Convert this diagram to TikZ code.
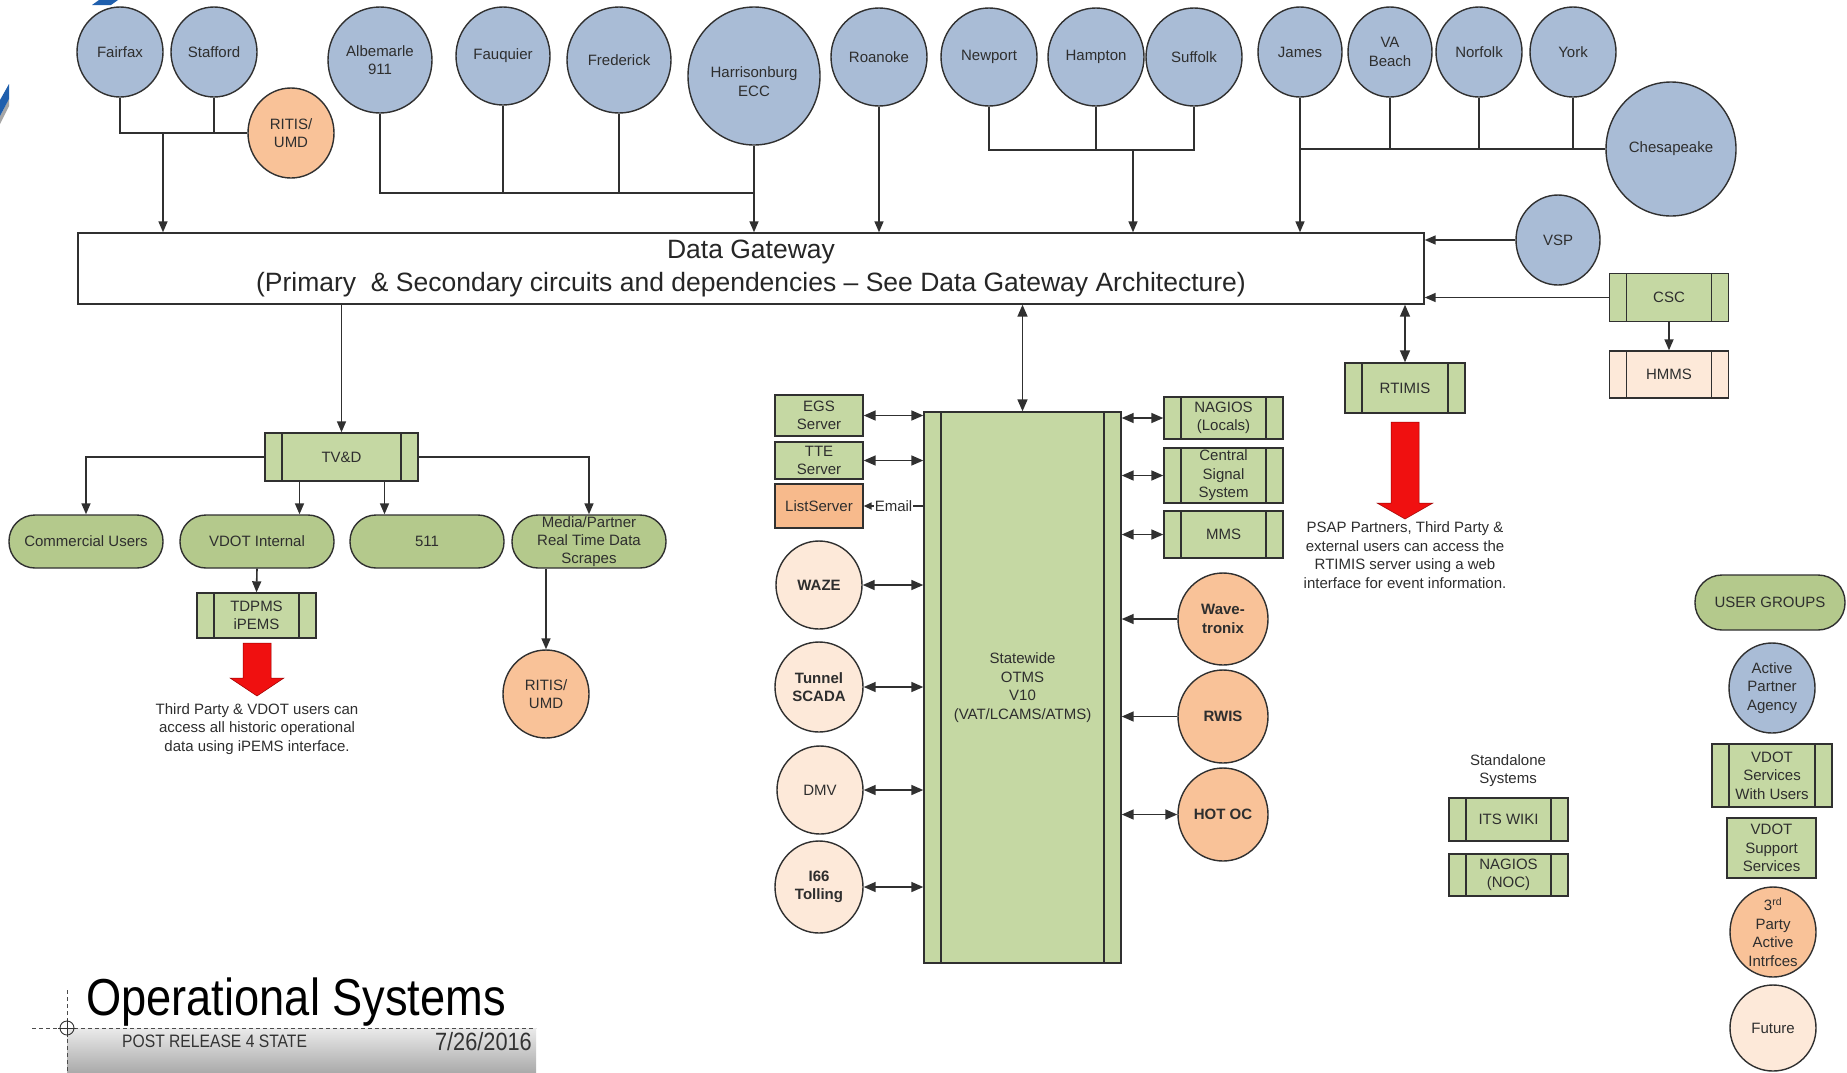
\documentclass[tikz,border=0pt]{standalone}
\usepackage{fontspec}
\setmainfont{Liberation Sans}
\newfontfamily\narrowfont[FakeStretch=0.87]{Liberation Sans}
\usetikzlibrary{shapes.geometric,arrows.meta}
\definecolor{linec}{HTML}{303030}
\definecolor{textc}{HTML}{2E2E2E}
\definecolor{bluef}{HTML}{A9BCD6}
\definecolor{orangef}{HTML}{F9C298}
\definecolor{peachf}{HTML}{FDE9D9}
\definecolor{boxg}{HTML}{C5D8A3}
\definecolor{pillg}{HTML}{B4C98C}
\definecolor{listf}{HTML}{F7BA8C}
\definecolor{redf}{HTML}{F01010}
\definecolor{tblue}{HTML}{1F5FAD}
\newcommand\myfs{\fontsize{15}{18.5}\selectfont}
\begin{document}
\begin{tikzpicture}[x=1pt,y=-1pt,
  base/.style={draw=linec, line width=1.4pt, text=textc, font=\myfs, align=center},
  bc/.style={base, ellipse, fill=bluef, inner sep=-6pt},
  oc/.style={base, ellipse, fill=orangef, inner sep=-6pt},
  pc/.style={base, ellipse, fill=peachf, inner sep=-6pt},
  plainbox/.style={base, rectangle, fill=boxg, inner sep=0pt},
  proc/.style={base, rectangle, fill=boxg, inner sep=0pt,
    path picture={
      \draw[linec, line width=1.4pt] ([xshift=17pt]path picture bounding box.north west) -- ([xshift=17pt]path picture bounding box.south west);
      \draw[linec, line width=1.4pt] ([xshift=-17pt]path picture bounding box.north east) -- ([xshift=-17pt]path picture bounding box.south east);}},
  pill/.style={base, rectangle, rounded corners=26pt, fill=pillg, inner sep=0pt},
  ln/.style={draw=linec, line width=1.6pt},
  arr/.style={ln, -{Triangle[length=11pt,width=9pt]}},
  dbl/.style={ln, {Triangle[length=12pt,width=10pt]}-{Triangle[length=12pt,width=10pt]}},
  big/.style={ln, -{Triangle[length=12pt,width=10pt]}},
  txt/.style={text=textc, font=\myfs, align=center, inner sep=0pt},
  redarrow/.style={fill=redf, draw=red!60!black, line width=0.5pt}
]
\useasboundingbox (0,0) rectangle (1847,1072);
\fill[white] (0,0) rectangle (1847,1072);

% template decoration
\fill[black!35] (0,116) -- (9,99) -- (9,106) -- (0,124) -- cycle;
\fill[tblue] (0,100) -- (9,84) -- (9,99) -- (0,116) -- cycle;
\fill[tblue] (92,5) -- (99,0) -- (118,0) -- (111,5) -- cycle;

% ---------- top agencies ----------
\node[bc, minimum width=86pt, minimum height=90pt] (fairfax) at (120,52) {Fairfax};
\node[bc, minimum width=86pt, minimum height=90pt] (stafford) at (214,52) {Stafford};
\node[oc, minimum width=86pt, minimum height=90pt] (ritisA) at (291,133) {RITIS/\\UMD};
\node[bc, minimum width=104pt, minimum height=106pt] (alb) at (380,60) {Albemarle\\911};
\node[bc, minimum width=94pt, minimum height=98pt] (fauq) at (503,56) {Fauquier};
\node[bc, minimum width=104pt, minimum height=106pt] (fred) at (619,60) {Frederick};
\node[bc, minimum width=132pt, minimum height=138pt] (harr) at (754,76) {\raisebox{-11pt}[0pt][0pt]{\begin{tabular}{@{}c@{}}Harrisonburg\\ECC\end{tabular}}};
\node[bc, minimum width=96pt, minimum height=98pt] (roan) at (879,57) {Roanoke};
\node[bc, minimum width=96pt, minimum height=98pt] (newp) at (989,57) {Newport};
\node[bc, minimum width=96pt, minimum height=98pt] (hamp) at (1096,57) {Hampton};
\node[bc, minimum width=96pt, minimum height=98pt] (suff) at (1194,57) {Suffolk};
\node[bc, minimum width=84pt, minimum height=90pt] (james) at (1300,52) {James};
\node[bc, minimum width=84pt, minimum height=90pt] (vab) at (1390,52) {VA\\Beach};
\node[bc, minimum width=86pt, minimum height=90pt] (norf) at (1479,52) {Norfolk};
\node[bc, minimum width=86pt, minimum height=90pt] (york) at (1573,52) {York};
\node[bc, minimum width=130pt, minimum height=134pt] (ches) at (1671,149) {Chesapeake};
\node[bc, minimum width=84pt, minimum height=90pt] (vsp) at (1558,240) {VSP};

% ---------- data gateway ----------
\node[draw=linec, line width=1.4pt, fill=white, minimum width=1346pt, minimum height=71pt, inner sep=0pt,
      align=center, text=black!85, font=\fontsize{26.5}{33}\selectfont] (gw) at (751,268.5)
  {Data Gateway\\(Primary\ \ \& Secondary circuits and dependencies – See Data Gateway Architecture)};

% connectors into gateway
\coordinate (j1) at (163,132);
\draw[ln] (fairfax.south) |- (ritisA.west);
\draw[ln] (stafford.south) -- (stafford.south |- ritisA.west);
\draw[arr] (j1) -- (j1 |- gw.north);

\coordinate (j2) at (754,193);
\draw[ln] (alb.south) |- (j2);
\draw[ln] (fauq.south) -- (fauq.south |- j2);
\draw[ln] (fred.south) -- (fred.south |- j2);
\draw[arr] (harr.south) -- (harr.south |- gw.north);

\draw[arr] (roan.south) -- (roan.south |- gw.north);

\coordinate (j3) at (1133,150);
\draw[ln] (newp.south) |- (j3) -| (suff.south);
\draw[ln] (hamp.south) -- (hamp.south |- j3);
\draw[arr] (j3) -- (j3 |- gw.north);

\draw[arr] (james.south) -- (james.south |- gw.north);
\draw[ln] (james.south |- ches.west) -- (ches.west);
\draw[ln] (vab.south) -- (vab.south |- ches.west);
\draw[ln] (norf.south) -- (norf.south |- ches.west);
\draw[ln] (york.south) -- (york.south |- ches.west);

\draw[arr] (vsp.west) -- (vsp.west -| gw.east);

% ---------- CSC / HMMS / RTIMIS ----------
\node[proc, minimum width=119pt, minimum height=48pt] (csc) at (1669,297.5) {CSC};
\node[proc, fill=peachf, minimum width=119pt, minimum height=47pt] (hmms) at (1669,374.5) {HMMS};
\draw[arr] (csc.west) -- (csc.west -| gw.east);
\draw[arr] (csc.south) -- (hmms.north);

\node[proc, minimum width=120pt, minimum height=50pt] (rtimis) at (1405,388) {RTIMIS};
\draw[dbl] (rtimis.north) -- (rtimis.north |- gw.south);
\fill[redarrow] (1391,422) -- (1419,422) -- (1419,503) -- (1433,503) -- (1405,519) -- (1377,503) -- (1391,503) -- cycle;
\node[txt] (psap) at (1405,555) {PSAP Partners, Third Party \&\\external users can access the\\RTIMIS server using a web\\interface for event information.};

% ---------- TV&D tree ----------
\node[proc, minimum width=153pt, minimum height=48pt] (tvd) at (341.5,457) {TV\&D};
\draw[arr] (tvd.north |- gw.south) -- (tvd.north);
\node[pill, minimum width=154pt, minimum height=53pt] (comm) at (86,541.5) {Commercial Users};
\node[pill, minimum width=154pt, minimum height=53pt] (vint) at (257,541.5) {VDOT Internal};
\node[pill, minimum width=154pt, minimum height=53pt] (p511) at (427,541.5) {511};
\node[pill, minimum width=154pt, minimum height=53pt, font=\fontsize{15}{18}\selectfont] (media) at (589,541.5) {Media/Partner\\Real Time Data\\Scrapes};
\draw[arr] (tvd.west) -| (comm.north);
\draw[arr] (tvd.east) -| (media.north);
\draw[arr] ([xshift=-42pt]tvd.south) -- ([xshift=-42pt]tvd.south |- vint.north);
\draw[arr] ([xshift=43pt]tvd.south) -- ([xshift=43pt]tvd.south |- p511.north);

\node[proc, minimum width=119pt, minimum height=45pt] (tdpms) at (256.5,615.5) {TDPMS\\iPEMS};
\draw[arr] (vint.south) -- (tdpms.north);
\fill[redarrow] (243,643) -- (271,643) -- (271,678) -- (284,678) -- (257,696) -- (230,678) -- (243,678) -- cycle;
\node[txt] (ipems) at (257,729) {Third Party \& VDOT users can\\access all historic operational\\data using iPEMS interface.};

\node[oc, minimum width=86pt, minimum height=88pt] (ritisB) at (546,694) {RITIS/\\UMD};
\draw[arr] (ritisB.north |- media.south) -- (ritisB.north);

% ---------- OTMS ----------
\node[proc, minimum width=197pt, minimum height=551pt] (otms) at (1022.5,687.5) {Statewide\\OTMS\\V10\\(VAT/LCAMS/ATMS)};
\draw[dbl] (otms.north) -- (otms.north |- gw.south);

\node[plainbox, minimum width=88pt, minimum height=41pt] (egs) at (819,415.5) {EGS\\Server};
\node[plainbox, minimum width=88pt, minimum height=37pt] (tte) at (819,460.5) {TTE\\Server};
\node[plainbox, fill=listf, minimum width=88pt, minimum height=44pt] (list) at (819,506) {ListServer};
\draw[dbl] (egs.east) -- (egs.east -| otms.west);
\draw[dbl] (tte.east) -- (tte.east -| otms.west);
\draw[ln, -{Triangle[length=8pt,width=7pt]}] (list.east -| otms.west) -- node[fill=white, inner sep=1pt, text=textc, font=\myfs] (email) {Email} (list.east);

\node[pc, minimum width=86pt, minimum height=88pt, font=\myfs\bfseries] (waze) at (819,585) {WAZE};
\node[pc, minimum width=88pt, minimum height=90pt, font=\myfs\bfseries] (tunnel) at (819,687) {Tunnel\\SCADA};
\node[pc, minimum width=86pt, minimum height=88pt] (dmv) at (820,790) {DMV};
\node[pc, minimum width=88pt, minimum height=92pt, font=\myfs\bfseries] (i66) at (819,887) {I66\\Tolling};
\draw[dbl] (waze.east) -- (waze.east -| otms.west);
\draw[dbl] (tunnel.east) -- (tunnel.east -| otms.west);
\draw[dbl] (dmv.east) -- (dmv.east -| otms.west);
\draw[dbl] (i66.east) -- (i66.east -| otms.west);

\node[proc, minimum width=119pt, minimum height=42pt] (nagl) at (1223.5,418) {NAGIOS\\(Locals)};
\node[proc, minimum width=119pt, minimum height=55pt] (css) at (1223.5,475.5) {Central\\Signal\\System};
\node[proc, minimum width=119pt, minimum height=47pt] (mms) at (1223.5,534.5) {MMS};
\draw[dbl] (nagl.west) -- (nagl.west -| otms.east);
\draw[dbl] (css.west) -- (css.west -| otms.east);
\draw[dbl] (mms.west) -- (mms.west -| otms.east);

\node[oc, minimum width=90pt, minimum height=92pt, font=\myfs\bfseries] (wave) at (1223,619) {Wave-\\tronix};
\node[oc, minimum width=90pt, minimum height=93pt, font=\myfs\bfseries] (rwis) at (1223,716.5) {RWIS};
\node[oc, minimum width=90pt, minimum height=93pt, font=\myfs\bfseries] (hot) at (1223,814.5) {HOT OC};
\draw[big] (wave.west) -- (wave.west -| otms.east);
\draw[big] (rwis.west) -- (rwis.west -| otms.east);
\draw[dbl] (hot.west) -- (hot.west -| otms.east);

% ---------- standalone ----------
\node[txt] (stand) at (1508,770.5) {Standalone\\Systems};
\node[proc, minimum width=119pt, minimum height=43pt] (wiki) at (1508.5,819.5) {ITS WIKI};
\node[proc, minimum width=119pt, minimum height=42pt] (nagn) at (1508.5,875) {NAGIOS\\(NOC)};

% ---------- user groups legend ----------
\node[pill, rounded corners=27pt, minimum width=150pt, minimum height=55pt] (ug) at (1770,602.5) {USER GROUPS};
\node[bc, minimum width=86pt, minimum height=90pt] (apa) at (1772,688) {Active\\Partner\\Agency};
\node[proc, minimum width=120pt, minimum height=63pt] (vsu) at (1772,775.5) {VDOT\\Services\\With Users};
\node[plainbox, minimum width=89pt, minimum height=60pt] (vss) at (1771.5,848) {VDOT\\Support\\Services};
\node[oc, minimum width=86pt, minimum height=90pt] (third) at (1773,932) {3\textsuperscript{rd}\\Party\\Active\\Intrfces};
\node[pc, minimum width=86pt, minimum height=86pt] (future) at (1773,1028) {Future};

% ---------- title block ----------
\shade[top color=black!8, bottom color=black!33] (67,1028) rectangle (536,1072);
\draw[black!70, line width=0.8pt, dash pattern=on 4pt off 3pt] (32,1028) -- (536,1028);
\draw[black!70, line width=0.8pt, dash pattern=on 4pt off 3pt] (67,990) -- (67,1072);
\draw[black!80, line width=0.9pt] (67,1028) circle (7);
\draw[black!80, line width=0.8pt] (58,1028) -- (76,1028) (67,1019) -- (67,1037);
\node[anchor=base west, inner sep=0pt, text=black, font=\narrowfont\fontsize{52}{52}\selectfont] (title) at (86,1015) {Operational Systems};
\node[anchor=base west, inner sep=0pt, text=black!80, font=\narrowfont\fontsize{18}{18}\selectfont] (post) at (122,1047) {POST RELEASE 4 STATE};
\node[anchor=base east, inner sep=0pt, text=black!80, font=\narrowfont\fontsize{25}{25}\selectfont] (date) at (532,1050) {7/26/2016};
\end{tikzpicture}
\end{document}
